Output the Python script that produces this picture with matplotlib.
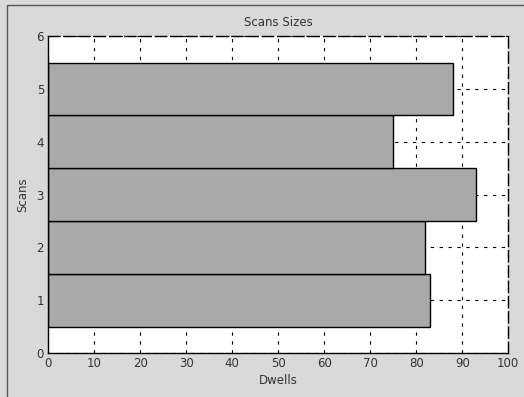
import numpy as np
import matplotlib.pyplot as plt

# data
scans = [1, 2, 3, 4, 5]
dwells = [83, 82, 93, 75, 88]
x_ticks = [0, 10, 20, 30, 40, 50, 60, 70, 80, 90, 100]
y_ticks = [0, 1, 2, 3, 4, 5, 6]

fig = plt.figure(figsize=(5.24, 3.97), dpi=100, facecolor="#d9d9d9")
ax = fig.add_axes([0.092, 0.111, 0.878, 0.798])
ax.set_facecolor("white")

ax.barh(scans, dwells, height=1.0, color="#a9a9a9", edgecolor="black", linewidth=1.0, zorder=2)

ax.set_xlim(0, 100)
ax.set_ylim(0, 6)
ax.set_xticks(x_ticks)
ax.set_yticks(y_ticks)
ax.grid(True, color="black", linestyle=(0, (3, 5)), linewidth=0.8, zorder=1)
ax.set_axisbelow(True)
ax.tick_params(length=0, labelsize=8.5, colors="#333333", pad=3)

for s in ["left", "bottom"]:
    ax.spines[s].set_linewidth(1.0)
for s in ["top", "right"]:
    ax.spines[s].set_linestyle((0, (8, 3)))
    ax.spines[s].set_linewidth(1.0)

ax.set_title("Scans Sizes", fontsize=8.5, color="#333333", pad=7)
ax.set_xlabel("Dwells", fontsize=8.5, color="#333333", labelpad=3)
ax.set_ylabel("Scans", fontsize=8.5, color="#333333", labelpad=5)

# outer frame of the scanned figure
fig.add_artist(plt.Rectangle((0.013, -0.01), 1.0, 0.997, transform=fig.transFigure,
                             fill=False, edgecolor="#555555", linewidth=1.0))

fig.savefig("out.png", dpi=100, facecolor=fig.get_facecolor())
